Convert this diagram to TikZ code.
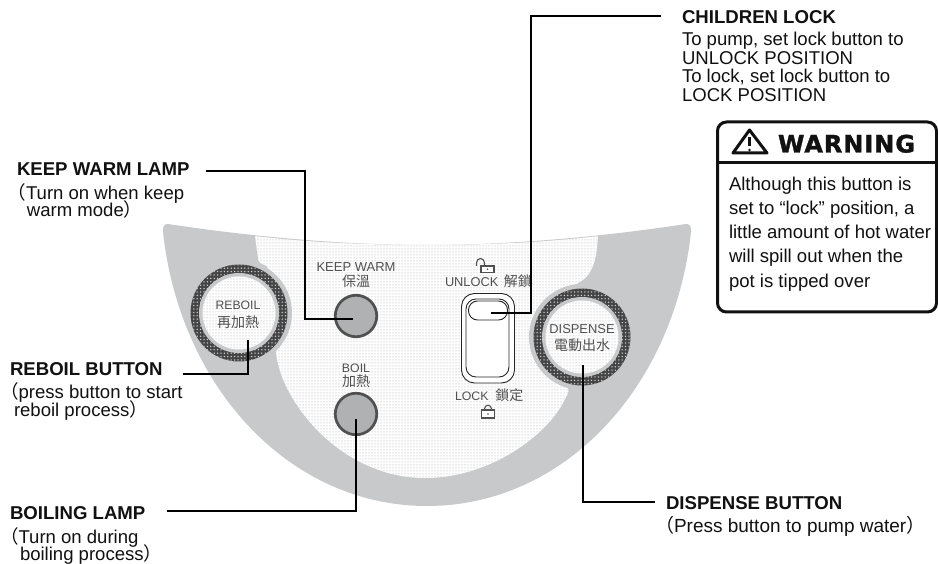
\documentclass[tikz,border=0pt]{standalone}
\usepackage{fontspec}
\setmainfont{Liberation Sans}
\newfontfamily\cjkf{Noto Sans CJK TC}
\newfontfamily\warnf[LetterSpace=4,FakeBold=1.5]{DejaVu Sans Bold}
\usetikzlibrary{patterns.meta}
\definecolor{bowl}{HTML}{C8C9CA}
\definecolor{ink}{HTML}{111111}
\definecolor{soft}{HTML}{505050}
\definecolor{ringdark}{HTML}{454545}
\definecolor{lampfill}{HTML}{B0B1B2}
\definecolor{dotc}{HTML}{D6D6D6}
\tikzset{
  leader/.style={draw=black,line width=2.6pt,line join=miter},
  txt/.style={anchor=base west,inner sep=0pt,outer sep=0pt,text=ink,font=\fontsize{18.55}{20}\selectfont},
  ttl/.style={txt,font=\fontsize{18.6}{20}\selectfont\bfseries},
  small/.style={anchor=base,inner sep=0pt,outer sep=0pt,text=soft,font=\fontsize{12.3}{14}\selectfont},
  smallc/.style={anchor=base,inner sep=0pt,outer sep=0pt,text=soft,font=\fontsize{14}{16}\selectfont\cjkf},
  lamp/.style={circle,draw=soft,fill=lampfill,line width=2.7pt,minimum size=41.5pt,inner sep=0pt},
  dotted area/.style={pattern={Dots[distance=3pt,radius=.75pt]},pattern color=dotc},
  slid/.style={draw=black!85,line width=.9pt,fill=white},
  icon/.style={draw=soft,line width=1.1pt,fill=white}
}
\newcommand{\cpl}{\smash{\cjkf （}}
\newcommand{\cpr}{\smash{\cjkf ）}}
\newcommand{\ringbutton}[2]{%
  \fill[bowl] (#1,#2) circle (53);
  \fill[ringdark] (#1,#2) circle (48.5);
  \fill[pattern={Dots[distance=3.4pt,radius=.75pt]},pattern color=white!75!ringdark] (#1,#2) circle (48.5);
  \fill[bowl] (#1,#2) circle (40);
  \fill[white] (#1,#2) circle (36.5);
  \fill[dotted area] (#1,#2) circle (36.5);
}
\begin{document}
\begin{tikzpicture}[x=1pt,y=-1pt]
\useasboundingbox (0,0) rectangle (938,564);
\fill[white] (0,0) rectangle (938,564);
% bowl
\fill[bowl] (168,224)
  .. controls (260,238) and (350,245) .. (427,245)
  .. controls (504,245) and (594,238) .. (686,224)
  .. controls (690,223.5) and (691.5,227) .. (691,232)
  .. controls (674,388) and (564,506) .. (427,506)
  .. controls (290,506) and (180,388) .. (163,232)
  .. controls (162.5,227) and (164,223.5) .. (168,224) -- cycle;
% dotted face
\path[fill=white] (255,236) .. controls (350,248) and (504,248) .. (598,236)
  .. controls (597,250) and (596,262) .. (590,272)
  .. controls (585,280) and (578,284) .. (570,286) -- (553,378)
  .. controls (560,382) and (566,383) .. (568,388)
  .. controls (570,392) and (566,396) .. (565,399)
  .. controls (548,435) and (490,478) .. (425,478)
  .. controls (340,478) and (280,400) .. (276,352) -- (267,266)
  .. controls (261,264) and (258,262) .. (258,258) -- cycle;
\path[dotted area] (255,236) .. controls (350,248) and (504,248) .. (598,236)
  .. controls (597,250) and (596,262) .. (590,272)
  .. controls (585,280) and (578,284) .. (570,286) -- (553,378)
  .. controls (560,382) and (566,383) .. (568,388)
  .. controls (570,392) and (566,396) .. (565,399)
  .. controls (548,435) and (490,478) .. (425,478)
  .. controls (340,478) and (280,400) .. (276,352) -- (267,266)
  .. controls (261,264) and (258,262) .. (258,258) -- cycle;
% buttons
\ringbutton{239}{313}
\ringbutton{582}{337}
\node[lamp] (kwlamp) at (356,316) {};
\node[lamp] (boillamp) at (356,414) {};
% panel labels
\node[small,font=\fontsize{13}{14}\selectfont] (kwtxt) at (356,272) {KEEP WARM};
\node[smallc] (kwcjk) at (356,287) {保溫};
\node[small,font=\fontsize{12.2}{14}\selectfont] (retxt) at (238,310) {REBOIL};
\node[smallc] (recjk) at (238,327) {再加熱};
\node[small] (boiltxt) at (356,372) {BOIL};
\node[smallc] (boilcjk) at (356,386) {加熱};
\node[small,font=\fontsize{12.9}{14}\selectfont] (dptxt) at (582,334) {DISPENSE};
\node[smallc] (dpcjk) at (582,351) {電動出水};
\node[small,anchor=base west,font=\fontsize{12.8}{14}\selectfont] (unltxt) at (445,287) {UNLOCK \hspace{2pt}{\fontsize{14}{16}\selectfont\cjkf 解鎖}};
\node[small,anchor=base west] (locktxt) at (455,400) {LOCK \hspace{3.5pt}{\fontsize{14}{16}\selectfont\cjkf 鎖定}};
% lock icons
\draw[icon,fill=none] (476.5,266) -- (476.5,263) arc[start angle=180,end angle=0,x radius=4,y radius=-4.5] -- (484.5,266);
\draw[icon] (481,266) rectangle (494,272.5);
\fill[soft] (487.5,269.3) circle (.9);
\draw[icon,fill=none] (484.5,410) -- (484.5,409) arc[start angle=180,end angle=0,x radius=3.5,y radius=-3.8] -- (491.5,410);
\draw[icon] (481.5,410) rectangle (494.5,418);
\fill[soft] (488,414) circle (.9);
% slider
\draw[slid,rounded corners=13pt] (461.5,293.5) rectangle (514.5,383);
\draw[slid,rounded corners=10pt] (466,299) rectangle (509,377);
\draw[slid,rounded corners=9pt] (468.5,301) rectangle (507.5,320);
% warning
\draw[line width=3pt,rounded corners=9pt,draw=ink] (717.5,122) rectangle (936.5,312);
\draw[line width=3pt,draw=ink] (717.5,163) -- (936.5,163);
\draw[line width=3pt,line join=round,draw=ink] (749.5,130) -- (767,153) -- (733,153) -- cycle;
\draw[line width=2.4pt,draw=ink] (749.5,137) -- (749.5,146);
\fill[ink] (749.5,150) circle (1.4);
\node[txt,font=\fontsize{24}{26}\selectfont\warnf] (warnhd) at (778,152.5) {WARNING};
\node[txt] (w1) at (729,191) {Although this button is};
\node[txt] (w2) at (729,215) {set to “lock” position, a};
\node[txt] (w3) at (729,239) {little amount of hot water};
\node[txt] (w4) at (729,263) {will spill out when the};
\node[txt] (w5) at (729,287.5) {pot is tipped over};
% callout texts
\node[ttl] (cltitle) at (682,24) {CHILDREN LOCK};
\node[txt] (cl1) at (682,46) {To pump, set lock button to};
\node[txt] (cl2) at (682,64.5) {UNLOCK POSITION};
\node[txt] (cl3) at (682,83) {To lock, set lock button to};
\node[txt] (cl4) at (682,102) {LOCK POSITION};
\node[ttl] (kwtitle) at (17,176) {KEEP WARM LAMP};
\node[txt] (kw1) at (7.5,200) {\cpl Turn on when keep};
\node[txt] (kw2) at (27,217) {warm mode\cpr};
\node[ttl] (rbtitle) at (10,376) {REBOIL BUTTON};
\node[txt] (rb1) at (0,399) {\cpl press button to start};
\node[txt] (rb2) at (14,417) {reboil process\cpr};
\node[ttl] (bltitle) at (10,519) {BOILING LAMP};
\node[txt] (bl1) at (0,543) {\cpl Turn on during};
\node[txt] (bl2) at (20,560) {boiling process\cpr};
\node[ttl] (dptitle) at (666,509) {DISPENSE BUTTON};
\node[txt,font=\fontsize{19}{20}\selectfont] (dp1) at (655,532) {\cpl Press button to pump water\cpr};
% leaders
\coordinate (kwa) at (206,171); \coordinate (kwb) at (353,319);
\coordinate (rba) at (183,374); \coordinate (rbb) at (248,340);
\coordinate (bla) at (167,511); \coordinate (blb) at (356,419);
\coordinate (cla) at (661,16);  \coordinate (clb) at (491,313);
\coordinate (cck) at (531,16);
\coordinate (dpa) at (655,502); \coordinate (dpb) at (583,365);
\coordinate (kwk) at (305,171);
\draw[leader] (kwa) -- (kwk) |- (kwb);
\draw[leader] (rba) -| (rbb);
\draw[leader] (bla) -| (blb);
\draw[leader] (cla) -- (cck) |- (clb);
\draw[leader] (dpa) -| (dpb);
\end{tikzpicture}
\end{document}
